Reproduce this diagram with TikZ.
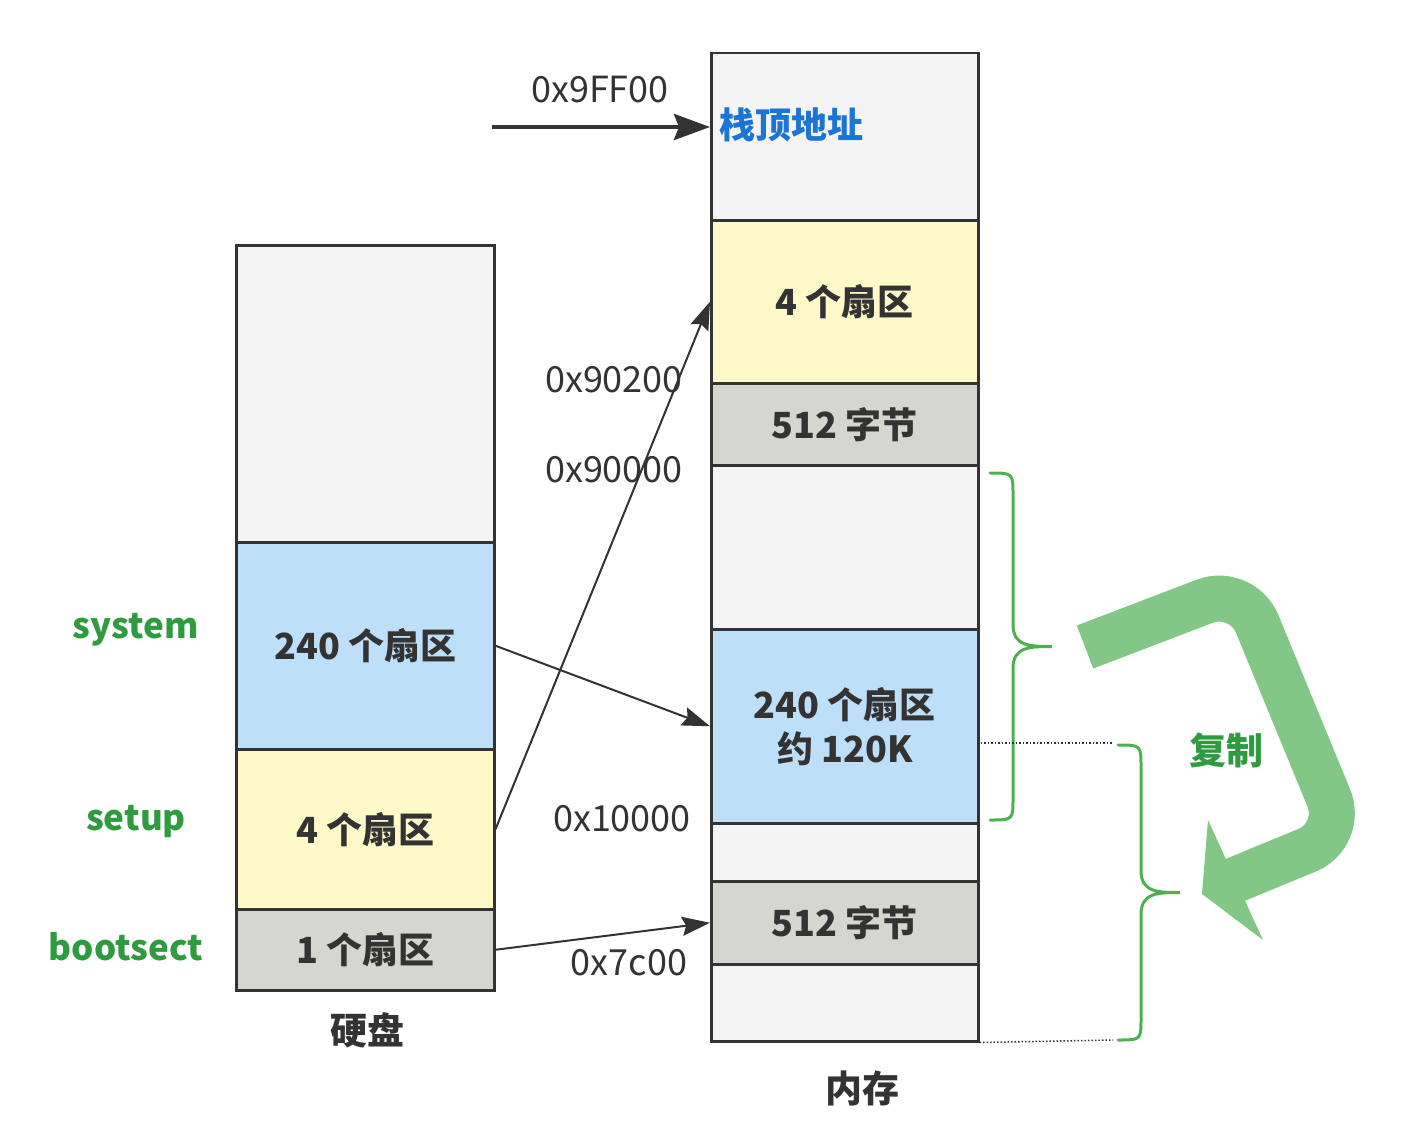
\documentclass[tikz,border=0pt]{standalone}
\usepackage{fontspec}
\setmainfont{Noto Sans CJK SC}
\usetikzlibrary{arrows.meta}

\definecolor{lineC}{HTML}{333333}
\definecolor{freeC}{HTML}{F4F4F4}
\definecolor{setupC}{HTML}{FFF8C8}
\definecolor{sysC}{HTML}{BEDFF8}
\definecolor{bootC}{HTML}{D6D6D0}
\definecolor{labelC}{HTML}{2E9B3F}
\definecolor{braceC}{HTML}{4DB050}
\definecolor{copyC}{HTML}{82C785}
\definecolor{stackC}{HTML}{1B74D6}

\tikzset{
  block/.style={draw=lineC,line width=2.5pt,anchor=north west,inner sep=0pt,
    text=lineC,align=center,font=\fontsize{36}{44}\selectfont\bfseries},
  addr/.style={text=lineC,font=\fontsize{36}{40}\selectfont},
  part/.style={text=labelC,font=\fontsize{35}{40}\selectfont\bfseries},
  title/.style={text=lineC,font=\fontsize{37}{40}\selectfont\bfseries},
  link/.style={draw=lineC,line width=2pt,-{Stealth[length=28pt,width=19pt,inset=4pt]}},
  curly/.style={draw=braceC,line width=3pt,line cap=round}
}

\begin{document}
\begin{tikzpicture}[x=1pt,y=-1pt]
  \useasboundingbox (0,0) rectangle (1426,1126);

  % hard disk
  \node[block,fill=freeC,minimum width=258pt,minimum height=297pt] (dFree) at (235,244) {};
  \node[block,fill=sysC,minimum width=258pt,minimum height=207pt] (dSys) at (235,541) {240 个扇区};
  \node[block,fill=setupC,minimum width=258pt,minimum height=160pt] (dSetup) at (235,748) {4 个扇区};
  \node[block,fill=bootC,minimum width=258pt,minimum height=81pt] (dBoot) at (235,908) {1 个扇区};
  \node[title] (diskTitle) at (367,1030) {硬盘};

  \node[part] (sysLbl) at (136,630) {system};
  \node[part] (setupLbl) at (136,822) {setup};
  \node[part] (bootLbl) at (126,947) {bootsect};

  % memory
  \node[block,fill=freeC,minimum width=267pt,minimum height=167pt] (mTop) at (710,52) {};
  \node[block,fill=setupC,minimum width=267pt,minimum height=163pt] (mSetup) at (710,219) {4 个扇区};
  \node[block,fill=bootC,minimum width=267pt,minimum height=82pt] (mBootOld) at (710,382) {512 字节};
  \node[block,fill=freeC,minimum width=267pt,minimum height=164pt] (mFree) at (710,464) {};
  \node[block,fill=sysC,minimum width=267pt,minimum height=194pt] (mSys) at (710,628) {240 个扇区\\约 120K};
  \node[block,fill=freeC,minimum width=267pt,minimum height=58pt] (mGap) at (710,822) {};
  \node[block,fill=bootC,minimum width=267pt,minimum height=83pt] (mBoot) at (710,880) {512 字节};
  \node[block,fill=freeC,minimum width=267pt,minimum height=77pt] (mLow) at (710,963) {};
  \node[title] (memTitle) at (862,1088) {内存};

  \node[anchor=west,text=stackC,font=\fontsize{36}{40}\selectfont\bfseries] (stackTop) at (716,125) {栈顶地址};

  % addresses
  \node[addr] (a9ff00) at (600,90) {0x9FF00};
  \node[addr] (a90200) at (614,380) {0x90200};
  \node[addr] (a90000) at (614,470) {0x90000};
  \node[addr] (a10000) at (622,819) {0x10000};
  \node[addr] (a7c00) at (629,963) {0x7c00};

  % arrows
  \coordinate (spStart) at (492,127);
  \draw[draw=lineC,line width=4.5pt,-{Stealth[length=36pt,width=26pt,inset=5pt]}] (spStart) -- (spStart -| mTop.west);
  \draw[link] (dSetup.east) -- (mSetup.west);
  \draw[link] (dSys.east) -- (mSys.west);
  \draw[link] (dBoot.east) -- (mBoot.west);

  % braces: x of the ends / top / bottom
  \foreach \bx/\ba/\bb in {990/473/820, 1118/745/1040}{
    \draw[curly] (\bx,\ba) .. controls ({\bx+23},\ba) .. ({\bx+23},{\ba+22})
      -- ({\bx+23},{(\ba+\bb)/2-22}) .. controls ({\bx+23},{(\ba+\bb)/2}) and ({\bx+40},{(\ba+\bb)/2}) .. ({\bx+62},{(\ba+\bb)/2})
      .. controls ({\bx+40},{(\ba+\bb)/2}) and ({\bx+23},{(\ba+\bb)/2}) .. ({\bx+23},{(\ba+\bb)/2+22})
      -- ({\bx+23},{\bb-22}) .. controls ({\bx+23},\bb) .. (\bx,\bb);
  }
  \draw[lineC,line width=1.5pt,dotted] (977,743) -- (1113,743);
  \draw[lineC,line width=1.5pt,dotted] (mLow.south east) -- (1113,1040);

  % copy arrow
  \draw[copyC,line width=46pt,rounded corners=40pt] (1085,647) -- (1242,587) -- (1344,835) -- (1230,882);
  \fill[copyC] (1202,894) -- (1208,820) -- (1263,940) -- cycle;
  \node[part,font=\fontsize{37}{40}\selectfont\bfseries] (copyLbl) at (1226,750) {复制};
\end{tikzpicture}
\end{document}
